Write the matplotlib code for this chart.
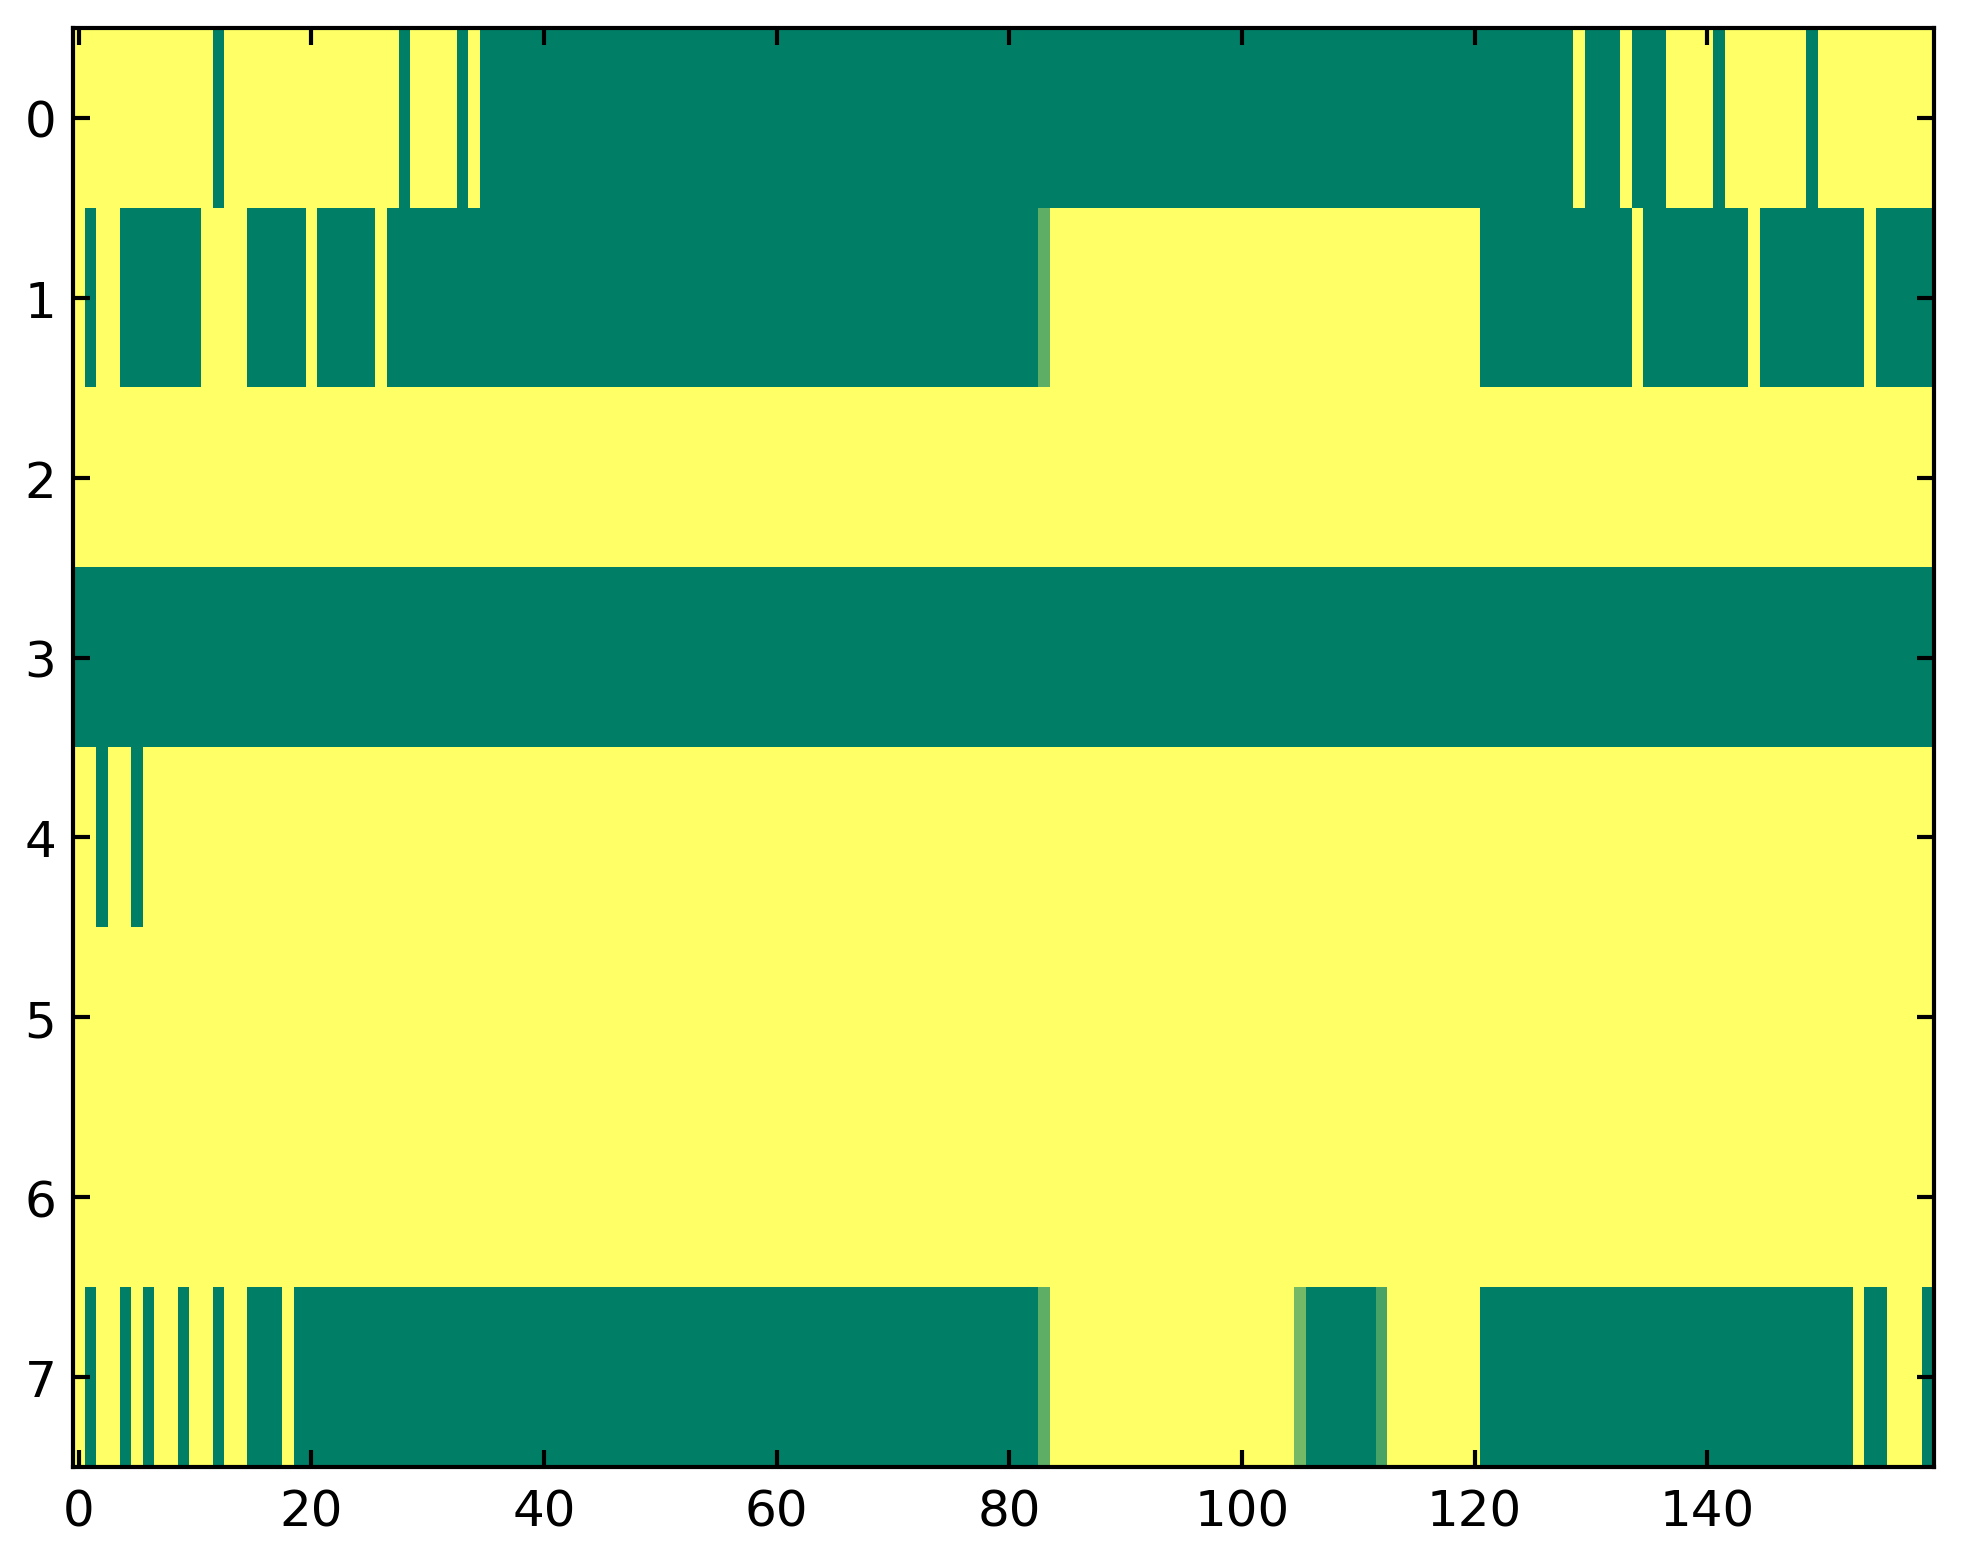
import numpy as np
import matplotlib
matplotlib.use("Agg")
import matplotlib.pyplot as plt

n_rows, n_cols = 8, 160

# green (value 0) columns for each row, everything else is yellow (value 1)
row0_green = [12, 28, 33] + list(range(35, 129)) + list(range(130, 133)) + list(range(134, 137)) + [141, 149]
row1_green = [1] + list(range(4, 11)) + list(range(15, 20)) + list(range(21, 26)) + list(range(27, 83)) \
    + list(range(121, 134)) + list(range(135, 144)) + list(range(145, 154)) + list(range(155, 160))
row2_green = []
row3_green = list(range(0, 160))
row4_green = [2, 5]
row5_green = []
row6_green = []
row7_green = [1, 4, 6, 9, 12] + list(range(15, 18)) + list(range(19, 83)) + list(range(106, 112)) \
    + list(range(121, 153)) + [154, 155, 159]

# in-between cells (row, col, value)
partial_cells = [(1, 83, 0.37), (7, 83, 0.37), (7, 105, 0.45), (7, 112, 0.28)]

rows_green = [row0_green, row1_green, row2_green, row3_green,
              row4_green, row5_green, row6_green, row7_green]

data = np.ones((n_rows, n_cols))
for r, cols in enumerate(rows_green):
    data[r, cols] = 0.0
for r, c, v in partial_cells:
    data[r, c] = v

W, H, DPI = 1963, 1564, 300
fig = plt.figure(figsize=(W / DPI, H / DPI), dpi=DPI)
ax = fig.add_axes([73 / W, 1 - 1468 / H, (1934 - 73) / W, (1468 - 29) / H])

ax.imshow(data, cmap='summer', vmin=0, vmax=1, aspect='auto', interpolation='nearest')

ax.set_xticks(range(0, 160, 20))
ax.set_yticks(range(0, 8))
ax.tick_params(direction='in', top=True, right=True, length=4, width=1, labelsize=12)
ax.tick_params(axis='x', pad=5)
ax.tick_params(axis='y', pad=4)
for s in ax.spines.values():
    s.set_linewidth(1.0)

fig.savefig("out.png", dpi=DPI, facecolor='white')
